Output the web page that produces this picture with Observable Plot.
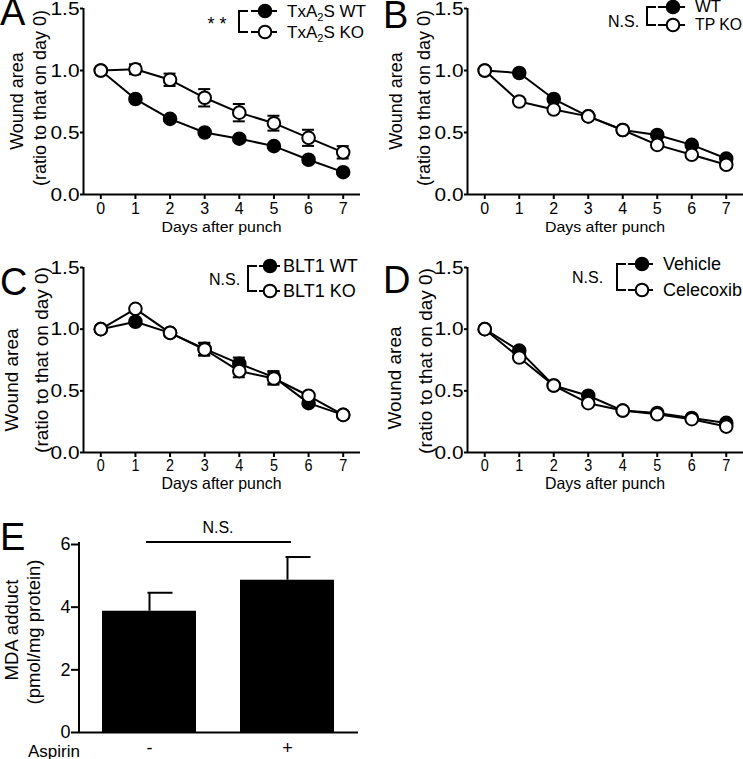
<!DOCTYPE html>
<html><head><meta charset="utf-8">
<script src="https://cdn.jsdelivr.net/npm/d3@7"></script>
<script src="https://cdn.jsdelivr.net/npm/@observablehq/plot@0.6"></script>
<style>
body{margin:0;background:#fff;}
#fig{position:relative;width:743px;height:759px;overflow:hidden;background:#fff;}
#fig svg{position:absolute;}
</style></head><body><div id="fig"></div>
<script>
// ---------- data ----------
const days = [0,1,2,3,4,5,6,7];
const yTicks = [0,0.5,1.0,1.5];

const aNames = ["TxA2S WT","TxA2S KO"];
const aWT    = [1.00,0.77,0.61,0.50,0.45,0.39,0.28,0.18];
const aWTerr = [0,0.015,0.015,0.015,0.015,0.015,0.015,0.015];
const aKO    = [1.00,1.01,0.925,0.78,0.66,0.575,0.457,0.34];
const aKOerr = [0,0.04,0.05,0.07,0.07,0.06,0.065,0.05];

const bNames = ["WT","TP KO"];
const bWT    = [1.00,0.98,0.77,0.63,0.52,0.48,0.40,0.29];
const bKO    = [1.00,0.75,0.685,0.63,0.52,0.40,0.32,0.24];

const cNames = ["BLT1 WT","BLT1 KO"];
const cWT    = [1.00,1.06,0.97,0.84,0.72,0.61,0.40,0.305];
const cWTerr = [0,0,0,0.05,0.05,0.05,0,0];
const cKO    = [1.00,1.165,0.97,0.835,0.66,0.60,0.46,0.305];
const cKOerr = [0,0,0,0.05,0.05,0.05,0,0];

const dNames = ["Vehicle","Celecoxib"];
const dVeh   = [1.00,0.826,0.543,0.46,0.34,0.32,0.28,0.24];
const dCel   = [1.00,0.77,0.543,0.40,0.34,0.31,0.27,0.21];

const eGroups = ["-","+"];
const eMean   = [3.87,4.86];
const eErr    = [0.59,0.74];
const eTicks  = [0,2,4,6];

// ---------- helpers ----------
const FONT = "'Liberation Sans', Arial, Helvetica, sans-serif";
const fig = document.getElementById("fig");

function rows(vals, errs){ return days.map((d,i)=>({day:d, v:vals[i], e: errs ? errs[i] : 0})); }

function styleAxis(svg, which, size, len){
  const g = d3.select(svg).selectAll(`g[aria-label="${which}-axis tick label"]`)
    .style("font-size", size + "px").style("font-family", FONT);
  if (len) g.selectAll("text").attr("textLength", len).attr("lengthAdjust","spacingAndGlyphs");
}

function linePanel(o){
  const r1 = rows(o.s1, o.e1), r2 = rows(o.s2, o.e2);
  const pxPerDay = (o.width - o.mL - o.mR) / 8;
  const cap = 6 / pxPerDay;
  const eb = r => r.filter(d => d.e > 0);
  const errMarks = r => [
    Plot.ruleX(eb(r), {x:"day", y1:d=>d.v-d.e, y2:d=>d.v+d.e, strokeWidth:2, stroke:"#000"}),
    Plot.ruleY(eb(r), {y:d=>d.v+d.e, x1:d=>d.day-cap, x2:d=>d.day+cap, strokeWidth:2, stroke:"#000"}),
    Plot.ruleY(eb(r), {y:d=>d.v-d.e, x1:d=>d.day-cap, x2:d=>d.day+cap, strokeWidth:2, stroke:"#000"})
  ];
  const svg = Plot.plot({
    width:o.width, height:o.height,
    marginLeft:o.mL, marginRight:o.mR, marginTop:o.mT, marginBottom:o.mB,
    style:{background:"transparent", overflow:"visible", color:"#000", fontFamily:FONT},
    x:{domain:[-0.5,7.5]},
    y:{domain:[0,1.5]},
    marks:[
      Plot.axisX({ticks:days, tickSize:5, tickPadding:o.xPad, tickFormat:d=>String(d), label:null, strokeWidth:2}),
      Plot.axisY({ticks:yTicks, tickSize:3, tickPadding:1, tickFormat:d3.format(".1f"), label:null, strokeWidth:2}),
      Plot.ruleY([0], {strokeWidth:2, stroke:"#000"}),
      Plot.ruleX([-0.5], {strokeWidth:2, stroke:"#000"}),
      Plot.line(r1, {x:"day", y:"v", stroke:"#000", strokeWidth:2}),
      Plot.line(r2, {x:"day", y:"v", stroke:"#000", strokeWidth:2}),
      ...errMarks(r1), ...errMarks(r2),
      Plot.dot(r1, {x:"day", y:"v", r:6.3, fill:"#000", stroke:"#000", strokeWidth:2}),
      Plot.dot(r2, {x:"day", y:"v", r:6.3, fill:"#fff", stroke:"#000", strokeWidth:2})
    ]
  });
  styleAxis(svg, "x", o.xFont, o.xLen);
  styleAxis(svg, "y", 19, 29);
  svg.style.left = o.left + "px"; svg.style.top = o.top + "px";
  fig.appendChild(svg);
}

// A
linePanel({left:0, top:0, width:370, height:240, mL:83, mR:10, mT:8, mB:46,
  s1:aWT, e1:aWTerr, s2:aKO, e2:aKOerr, xFont:16, xPad:3});
// B
linePanel({left:370, top:0, width:373, height:240, mL:97, mR:0, mT:8, mB:46,
  s1:bWT, s2:bKO, xFont:16, xPad:3});
// C
linePanel({left:0, top:240, width:370, height:260, mL:83, mR:10, mT:27, mB:48,
  s1:cWT, e1:cWTerr, s2:cKO, e2:cKOerr, xFont:16, xPad:2, xLen:8});
// D
linePanel({left:370, top:240, width:373, height:260, mL:97, mR:0, mT:27, mB:48,
  s1:dVeh, s2:dCel, xFont:16, xPad:2, xLen:8});

// E (bar chart)
{
  const er = eGroups.map((g,i)=>({g, v:eMean[i], e:eErr[i]}));
  const W = 370, mL = 79, mR = 12;
  const step = (W - mL - mR) / (2 - 0.3165 + 2*0.162);
  const bw = step * (1 - 0.3165);
  const svg = Plot.plot({
    width:W, height:259, marginLeft:mL, marginRight:mR, marginTop:44, marginBottom:27,
    style:{background:"transparent", overflow:"visible", color:"#000", fontFamily:FONT},
    x:{domain:eGroups, paddingInner:0.3165, paddingOuter:0.162},
    y:{domain:[0,6]},
    marks:[
      Plot.axisX({tickSize:0, tickPadding:9, label:null}),
      Plot.axisY({ticks:eTicks, tickSize:8, tickPadding:1, tickFormat:d=>String(d), label:null, strokeWidth:2}),
      Plot.barY(er, {x:"g", y:"v", fill:"#000"}),
      Plot.ruleX(er, {x:"g", y1:"v", y2:d=>d.v+d.e, stroke:"#000", strokeWidth:2}),
      Plot.tickY(er, {x:"g", y:d=>d.v+d.e, stroke:"#000", strokeWidth:2, insetLeft:bw/2-2, insetRight:bw/2-24}),
      Plot.ruleY([0], {stroke:"#000", strokeWidth:2})
    ]
  });
  styleAxis(svg, "x", 18);
  styleAxis(svg, "y", 18);
  d3.select(svg).append("line").attr("x1", mL).attr("x2", mL).attr("y1", 42).attr("y2", 233)
    .attr("stroke","#000").attr("stroke-width",2);
  svg.style.left = "0px"; svg.style.top = "500px";
  fig.appendChild(svg);
}

// ---------- overlay annotations ----------
const ov = d3.select(fig).append("svg").attr("width",743).attr("height",759)
  .style("left","0px").style("top","0px").attr("font-family", FONT).style("pointer-events","none");

function letter(t,x,y){ ov.append("text").attr("x",x).attr("y",y).attr("font-size",38).text(t); }
letter("A",0,25); letter("B",383,28); letter("C",0,295); letter("D",383,293); letter("E",0,550);

function ytitle(lines, xs, ys, fs){
  lines.forEach((t,i)=>{
    ov.append("text").attr("transform",`translate(${xs[i]},${ys[i]}) rotate(-90)`)
      .attr("text-anchor","middle").attr("dominant-baseline","central").attr("font-size",fs).text(t);
  });
}
ytitle(["Wound area","(ratio to that on day 0)"], [17,40], [101,98], 18);
ytitle(["Wound area","(ratio to that on day 0)"], [396,424], [101,98], 18);
ytitle(["Wound area","(ratio to that on day 0)"], [11,41], [380,360], 19);
ytitle(["Wound area","(ratio to that on day 0)"], [394,425], [378,361], 19);
ytitle(["MDA adduct","(pmol/mg protein)"], [11,33], [630,632], 18.5);

function xtitle(x,y,fs,len){ ov.append("text").attr("x",x).attr("y",y).attr("text-anchor","middle").attr("font-size",fs)
  .attr("textLength",len).attr("lengthAdjust","spacingAndGlyphs").text("Days after punch"); }
xtitle(221.5,232,15.5,120); xtitle(605,232,15.5,120); xtitle(221.5,489,16.5,120); xtitle(605,489,16.5,120);

ov.append("text").attr("x",28).attr("y",757).attr("font-size",17).text("Aspirin");

function legend(o){
  ov.append("path").attr("d",`M${o.bx+9},${o.y1}H${o.bx}V${o.y2}H${o.bx+9}`).attr("fill","none").attr("stroke","#000").attr("stroke-width",2);
  [o.y1,o.y2].forEach((y,i)=>{
    ov.append("line").attr("x1",o.lx1).attr("x2",o.lx2).attr("y1",y).attr("y2",y).attr("stroke","#000").attr("stroke-width",2);
    ov.append("circle").attr("cx",o.mx).attr("cy",y).attr("r",6.3).attr("fill",i?"#fff":"#000").attr("stroke","#000").attr("stroke-width",2);
    const t = ov.append("text").attr("x",o.tx).attr("y",y+o.fs/3).attr("font-size",o.fs);
    const name = o.names[i];
    if (name.includes("A2S")) {
      const [pre, post] = name.split("A2S");
      t.append("tspan").text(pre + "A");
      t.append("tspan").attr("font-size",o.fs*0.65).attr("dy",4).text("2");
      t.append("tspan").attr("dy",-4).text("S" + post);
    } else {
      t.text(name);
      if (o.lens) t.attr("textLength", o.lens[i]).attr("lengthAdjust","spacingAndGlyphs");
    }
  });
  ov.append("text").attr("x",o.sx).attr("y",o.sy).attr("text-anchor",o.sa||"start").attr("font-size",o.sfs).text(o.sig);
}
legend({bx:239, y1:11, y2:32, lx1:251, lx2:277, mx:265, tx:287, names:aNames, fs:17, sig:"* *", sx:217, sy:30, sa:"middle", sfs:18});
legend({bx:647, y1:7, y2:25, lx1:658, lx2:685, mx:673, tx:695, names:bNames, fs:16, lens:[26,47], sig:"N.S.", sx:608, sy:27, sfs:16});
legend({bx:248, y1:266, y2:291, lx1:259, lx2:280, mx:270, tx:283, names:cNames, fs:18, sig:"N.S.", sx:209, sy:285, sfs:16});
legend({bx:617, y1:264, y2:290, lx1:628, lx2:653, mx:642, tx:663, names:dNames, fs:18, sig:"N.S.", sx:572, sy:283, sfs:16});

ov.append("line").attr("x1",146).attr("x2",291).attr("y1",542).attr("y2",542).attr("stroke","#000").attr("stroke-width",2);
ov.append("text").attr("x",218).attr("y",533).attr("text-anchor","middle").attr("font-size",16).text("N.S.");
</script>
</body></html>
